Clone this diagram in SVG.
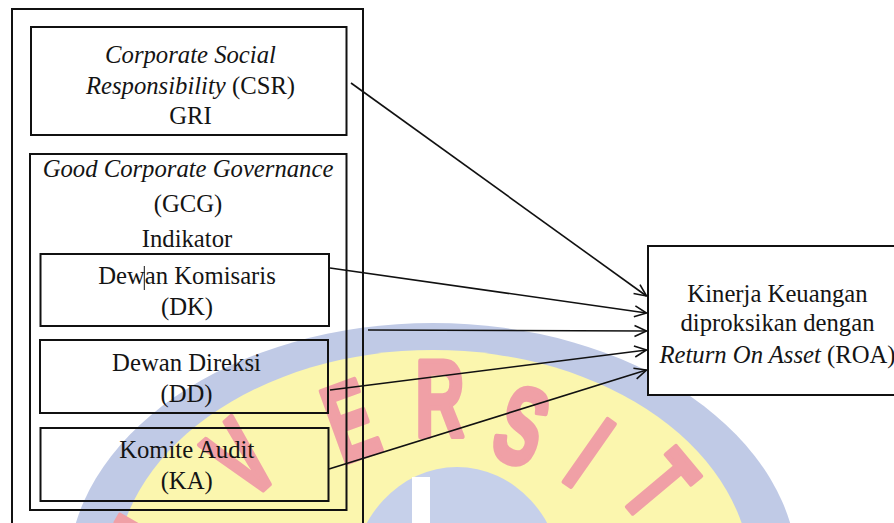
<svg xmlns="http://www.w3.org/2000/svg" width="894" height="523" viewBox="0 0 894 523">
  <defs>
    <style>
      .box{fill:none;stroke:#111;stroke-width:2}
      .t{font-family:"Liberation Serif",Tinos,"Times New Roman","DejaVu Serif",serif;font-size:24.7px;fill:#141414;text-anchor:middle}
      .i{font-style:italic}
      .edge{stroke:#111;stroke-width:1.6;fill:none;marker-end:url(#arr)}
      .wm{font-family:"Liberation Sans",Arial,sans-serif;font-weight:bold;font-size:110px;fill:#f0a0a6;stroke:#f0a0a6;stroke-width:5;stroke-linejoin:round;text-anchor:middle}
    </style>
    <marker id="arr" markerUnits="userSpaceOnUse" markerWidth="14" markerHeight="14" refX="12" refY="6" orient="auto" overflow="visible">
      <path d="M0,0.5 L12,6 L0,11.5" fill="none" stroke="#111" stroke-width="1.6"/>
    </marker>
  </defs>

  <rect width="894" height="523" fill="#fff"/>

  <!-- background seal -->
  <g id="watermark">
    <ellipse cx="433" cy="575" rx="365" ry="252" fill="#c0cae6"/>
    <ellipse cx="433" cy="578" rx="318" ry="228" fill="#fbf6ae"/>
    <text class="wm" transform="translate(150,537) rotate(-60) scale(0.62,1)" y="39">I</text>
    <text class="wm" transform="translate(240,458) rotate(-42) scale(0.62,1)" y="39">V</text>
    <text class="wm" transform="translate(350,420) rotate(-20) scale(0.62,1)" y="39">E</text>
    <text class="wm" transform="translate(440,398) rotate(0) scale(0.62,1)" y="39">R</text>
    <text class="wm" transform="translate(522,425) rotate(20) scale(0.62,1)" y="39">S</text>
    <text class="wm" transform="translate(590,452) rotate(35) scale(0.62,1)" y="39">I</text>
    <text class="wm" transform="translate(660,485) rotate(50) scale(0.62,1)" y="39">T</text>
    <text class="wm" transform="translate(735,560) rotate(62) scale(0.62,1)" y="39">A</text>
    <ellipse cx="457" cy="582" rx="105" ry="115" fill="#c6d0ea"/>
    <rect x="412" y="477" width="18" height="50" fill="#fff"/>
  </g>

  <!-- outer frame of the independent variables -->
  <g id="independent-frame">
    <rect class="box" x="12" y="9" width="351" height="530"/>
  </g>

  <g id="csr">
    <rect class="box" x="31" y="27" width="315.5" height="108"/>
    <text class="t i" x="190.5" y="62.5">Corporate Social</text>
    <text class="t" x="190.5" y="94.3"><tspan class="i">Responsibility</tspan> (CSR)</text>
    <text class="t" x="190.5" y="124.3">GRI</text>
  </g>

  <g id="gcg">
    <rect class="box" x="30" y="154" width="316.5" height="356"/>
    <text class="t i" x="188" y="176.7">Good Corporate Governance</text>
    <text class="t" x="188" y="212.3">(GCG)</text>
    <text class="t" x="187" y="246.7">Indikator</text>
  </g>

  <g id="dk">
    <rect class="box" x="40.5" y="254" width="288.5" height="72"/>
    <text class="t" x="187" y="283.7">Dewan Komisaris</text>
    <text class="t" x="187" y="315">(DK)</text>
    <line x1="144.3" y1="266" x2="144.3" y2="290" stroke="#111" stroke-width="1"/>
  </g>

  <g id="dd">
    <rect class="box" x="40" y="340" width="288" height="73"/>
    <text class="t" x="186.5" y="370.7">Dewan Direksi</text>
    <text class="t" x="186.5" y="402.3">(DD)</text>
  </g>

  <g id="ka">
    <rect class="box" x="40.5" y="428" width="288" height="73"/>
    <text class="t" x="186.7" y="458.3">Komite Audit</text>
    <text class="t" x="186.7" y="489.3">(KA)</text>
  </g>

  <g id="roa">
    <rect class="box" x="648" y="246" width="260" height="149" style="fill:#fff"/>
    <text class="t" x="777.5" y="302">Kinerja Keuangan</text>
    <text class="t" x="777.5" y="330.7">diproksikan dengan</text>
    <text class="t" x="777.5" y="362.5"><tspan class="i">Return On Asset</tspan> (ROA)</text>
  </g>

  <g id="connectors">
    <line class="edge" x1="351" y1="83" x2="646.5" y2="296"/>
    <line class="edge" x1="330" y1="268" x2="646.5" y2="313"/>
    <line class="edge" x1="368" y1="330" x2="646.5" y2="331"/>
    <line class="edge" x1="330" y1="390" x2="646.5" y2="350"/>
    <line class="edge" x1="329" y1="469" x2="646.5" y2="370"/>
  </g>
</svg>
